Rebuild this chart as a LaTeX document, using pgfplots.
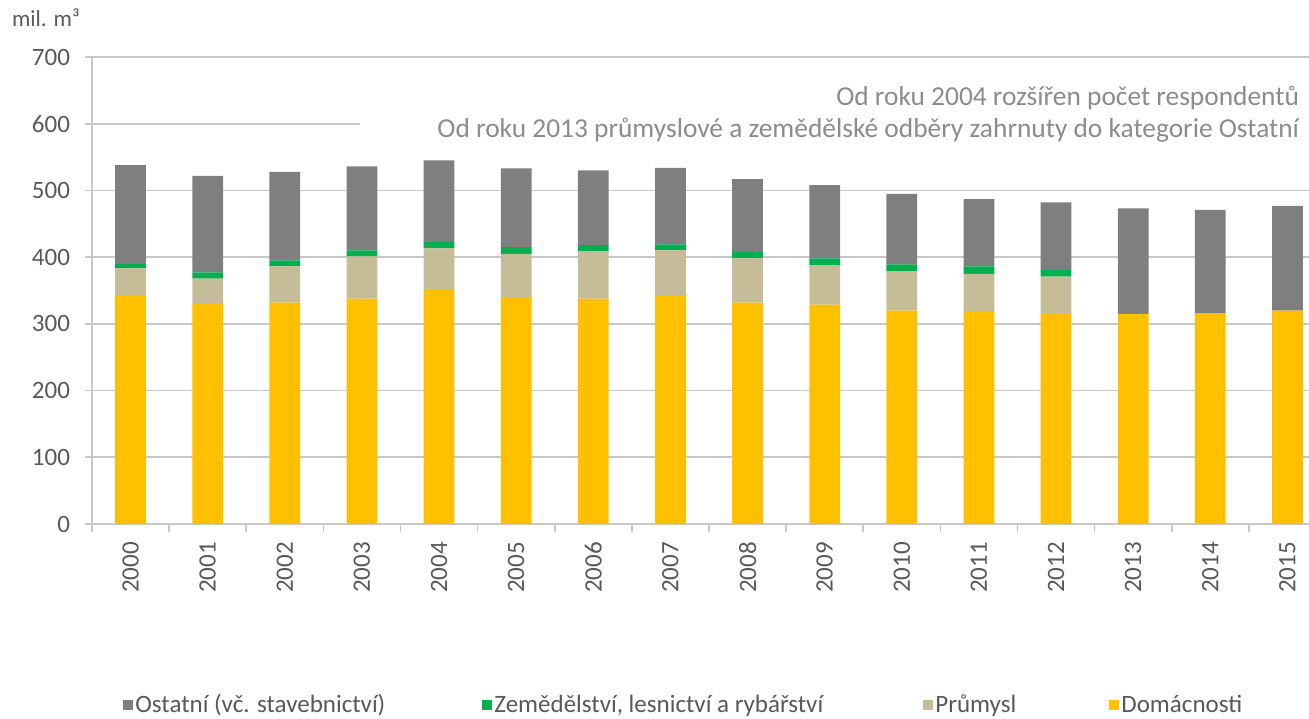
\documentclass[border=0pt]{standalone}
\usepackage{fontspec}
\setmainfont{Carlito}
\usepackage{pgfplots}
\usepackage{pgfplotstable}
\pgfplotsset{compat=1.18}

\definecolor{ost}{HTML}{7F7F7F}
\definecolor{zem}{HTML}{00B050}
\definecolor{pru}{HTML}{C4BD97}
\definecolor{dom}{HTML}{FFC000}
\definecolor{gridc}{HTML}{C8C8C8}
\definecolor{txt}{HTML}{595959}
\definecolor{note}{HTML}{8C8C8C}

% mil. m3 by year: households, industry, agriculture, other
\pgfplotstableread{
x  dom pru zem ost
0  342 41  7  148
1  331 37  9  145
2  332 54  9  133
3  338 63  9  126
4  351 62  10 122
5  340 65  10 118
6  338 71  9  112
7  343 67  9  115
8  332 66  10 109
9  329 59  10 110
10 320 59  10 106
11 318 57  11 101
12 316 55  10 101
13 315 0   0  158
14 316 0   0  155
15 320 0   0  157
}\data

\newcommand{\lbl}{\fontsize{12.5}{15}\selectfont}

\begin{document}
\begin{tikzpicture}
\useasboundingbox (0,0) rectangle (654.5pt,359pt);
\begin{axis}[
    at={(46pt,97pt)}, anchor=south west,
    scale only axis, width=608.5pt, height=233.5pt,
    ybar stacked, bar width=0.4,
    xmin=-0.5, xmax=15.28, ymin=0, ymax=700,
    axis x line*=bottom, axis y line*=left,
    axis line style={gridc, line width=0.8pt, -},
    ytick={0,100,...,700},
    ymajorgrids, grid style={gridc, line width=0.8pt},
    tick align=outside, major tick length=3.5pt,
    y tick style={gridc, line width=0.8pt},
    x tick style={draw=none},
    xtick={0,...,15},
    xticklabels={2000,2001,2002,2003,2004,2005,2006,2007,2008,2009,2010,2011,2012,2013,2014,2015},
    extra x ticks={-0.5,0.5,...,14.5},
    extra x tick labels={},
    extra x tick style={grid=none, major tick length=4pt,
        x tick style={draw=gridc, line width=0.8pt}},
    xticklabel style={rotate=90, anchor=east},
    xticklabel shift=2pt,
    yticklabel shift=4pt,
    tick label style={font=\lbl, text=txt},
    /pgf/number format/assume math mode=true,
    legend columns=4,
    reverse legend,
    legend style={at={(0.0255,-0.3876)}, anchor=west, draw=none,
        font=\lbl, text=txt, inner sep=0pt,
        nodes={inner sep=1pt}},
    legend image code/.code={\fill[#1] (0pt,-2.5pt) rectangle (5pt,2.5pt);},
]
\addplot[fill=dom, draw=none] table[x=x, y=dom] {\data};
\addlegendentry{Domácnosti}
\addplot[fill=pru, draw=none] table[x=x, y=pru] {\data};
\addlegendentry{\makebox[86pt][l]{Průmysl}}
\addplot[fill=zem, draw=none] table[x=x, y=zem] {\data};
\addlegendentry{\makebox[213.5pt][l]{Zemědělství, lesnictví a rybářství}}
\addplot[fill=ost, draw=none] table[x=x, y=ost] {\data};
\addlegendentry{\makebox[172.5pt][l]{Ostatní (vč. stavebnictví)}}
\fill[white] (axis cs:2.98,570) rectangle (axis cs:15.28,650);
\end{axis}
\node[anchor=west, text=txt, font=\fontsize{11.5}{14}\selectfont] at (2.5pt,350pt) {mil. m³};
\node[anchor=east, text=note, font=\fontsize{13.7}{16}\selectfont] at (653pt,310pt) {Od roku 2004 rozšířen počet respondentů};
\node[anchor=east, text=note, font=\fontsize{13.7}{16}\selectfont] at (653pt,294pt) {Od roku 2013 průmyslové a zemědělské odběry zahrnuty do kategorie Ostatní};
\end{tikzpicture}
\end{document}
